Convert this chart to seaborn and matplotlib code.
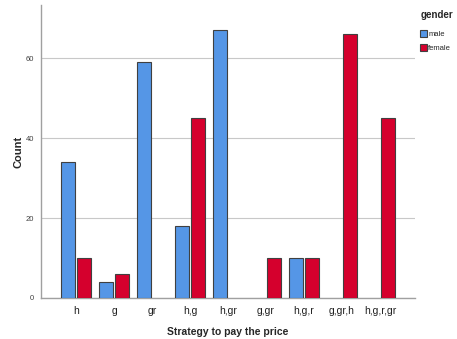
import pandas as pd
import matplotlib.pyplot as plt
import seaborn as sns

# Data
strategies = ['h', 'g', 'gr', 'h,g', 'h,gr', 'g,gr', 'h,g,r', 'g,gr,h', 'h,g,r,gr']
male = [34, 4, 59, 18, 67, 0, 10, 0, 0]
female = [10, 6, 0, 45, 0, 10, 10, 66, 45]
genders = ['male', 'female']
colors = ['#5596E6', '#D5002D']

rows = []
for s, m, f in zip(strategies, male, female):
    rows.append({'strategy': s, 'gender': 'male', 'count': m})
    rows.append({'strategy': s, 'gender': 'female', 'count': f})
df = pd.DataFrame(rows)
df = df[df['count'] > 0]

sns.set_theme(style='white')
plt.rcParams['font.family'] = ['Liberation Sans', 'DejaVu Sans']

fig = plt.figure(figsize=(4.57, 3.39), dpi=100)
ax = fig.add_axes([0.09, 0.121, 0.818, 0.864])

sns.barplot(data=df, x='strategy', y='count', hue='gender',
            order=strategies, hue_order=genders, palette=colors,
            width=0.8, gap=0.08, edgecolor='#404040', linewidth=0.8,
            saturation=1, ax=ax, zorder=3)

ax.set_xlim(-0.92, 8.92)
ax.set_ylim(0, 73.25)
ax.set_yticks([0, 20, 40, 60])
ax.yaxis.grid(True, color='#c8c8c8', linewidth=0.8, zorder=0)
ax.set_axisbelow(True)

for side in ['top', 'right']:
    ax.spines[side].set_visible(False)
for side in ['left', 'bottom']:
    ax.spines[side].set_color('#a0a0a0')
    ax.spines[side].set_linewidth(1.0)

ax.tick_params(axis='y', labelsize=5.5, labelcolor='#404040', length=0, pad=5)
ax.tick_params(axis='x', labelsize=7.5, labelcolor='#202020', length=0, pad=6)

ax.set_xlabel('Strategy to pay the price', fontsize=7.5, fontweight='bold', labelpad=8)
ax.set_ylabel('Count', fontsize=8, fontweight='bold', labelpad=2)

leg = ax.legend(title='gender', loc='upper left', bbox_to_anchor=(1.0, 1.0),
                frameon=False, fontsize=5.5, title_fontsize=7,
                handlelength=0.9, handleheight=1.1, handletextpad=0.15,
                labelspacing=0.7, borderaxespad=0.3)
leg.get_title().set_fontweight('bold')
leg._legend_box.align = 'left'
leg._legend_box.sep = 7

fig.savefig('out.png', dpi=100)
